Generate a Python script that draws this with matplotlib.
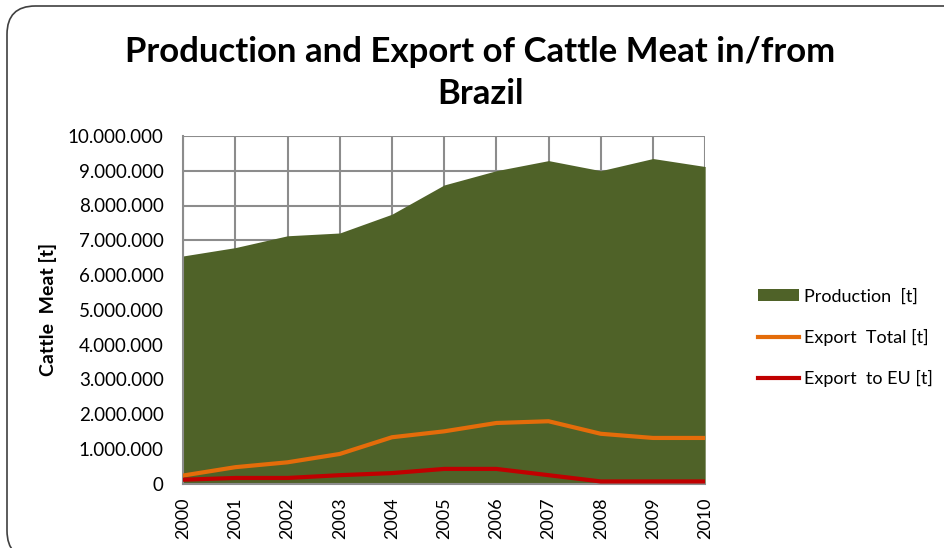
import matplotlib
matplotlib.use('Agg')
import matplotlib.pyplot as plt
from matplotlib.patches import FancyBboxPatch
from matplotlib.ticker import FuncFormatter

years = [2000, 2001, 2002, 2003, 2004, 2005, 2006, 2007, 2008, 2009, 2010]
production = [6550000, 6790000, 7130000, 7210000, 7750000, 8590000,
              9000000, 9290000, 9000000, 9350000, 9120000]
export_total = [240000, 480000, 620000, 860000, 1340000, 1510000,
                1750000, 1800000, 1440000, 1320000, 1320000]
export_eu = [120000, 170000, 170000, 250000, 310000, 430000,
             430000, 250000, 70000, 70000, 70000]

plt.rcParams['font.family'] = ['Lato', 'DejaVu Sans']

fig = plt.figure(figsize=(9.44, 5.48), dpi=100)
ax = fig.add_axes([0.194, 0.117, 0.553, 0.635])

# rounded chart border (Excel style)
fig.patches.append(FancyBboxPatch((7 / 944, -0.02), 1.1, 1 - 6 / 548 + 0.02,
                                  boxstyle='round,pad=0,rounding_size=0.03',
                                  transform=fig.transFigure, fill=False,
                                  edgecolor='#404040', linewidth=1.2,
                                  mutation_aspect=944 / 548))

ax.fill_between(years, production, 0, color='#4F6228', linewidth=0,
                label='Production  [t]', zorder=2)
ax.plot(years, export_total, color='#E46C0A', linewidth=3,
        label='Export  Total [t]', zorder=3)
ax.plot(years, export_eu, color='#C00000', linewidth=3,
        label='Export  to EU [t]', zorder=3)

ax.set_xlim(2000, 2010)
ax.set_ylim(0, 10000000)
ax.set_xticks(years)
ax.set_xticklabels([str(y) for y in years], rotation=90, fontsize=13)
ax.set_yticks(range(0, 10000001, 1000000))
ax.yaxis.set_major_formatter(FuncFormatter(lambda v, p: f'{int(v):,}'.replace(',', '.')))
ax.tick_params(axis='y', labelsize=13.5, length=0, pad=14)
ax.tick_params(axis='x', length=0, pad=10)
ax.grid(True, color='#8c8c8c', linewidth=1.5, zorder=1)
ax.set_axisbelow(True)
for side in ['top', 'right']:
    ax.spines[side].set_visible(False)
for side in ['left', 'bottom']:
    ax.spines[side].set_color('#8c8c8c')
    ax.spines[side].set_linewidth(1.5)

ax.set_ylabel('Cattle  Meat [t]', fontsize=14, fontweight='bold', labelpad=8)

fig.suptitle('Production and Export of Cattle Meat in/from\nBrazil',
             fontsize=25, fontweight='bold', x=0.509, y=0.935,
             linespacing=1.38)

ax.legend(loc='center left', bbox_to_anchor=(1.0, 0.42), frameon=False,
          fontsize=13, handlelength=2.3, handletextpad=0.25,
          labelspacing=1.35, borderaxespad=2.5)

fig.savefig('out.png', dpi=100)
